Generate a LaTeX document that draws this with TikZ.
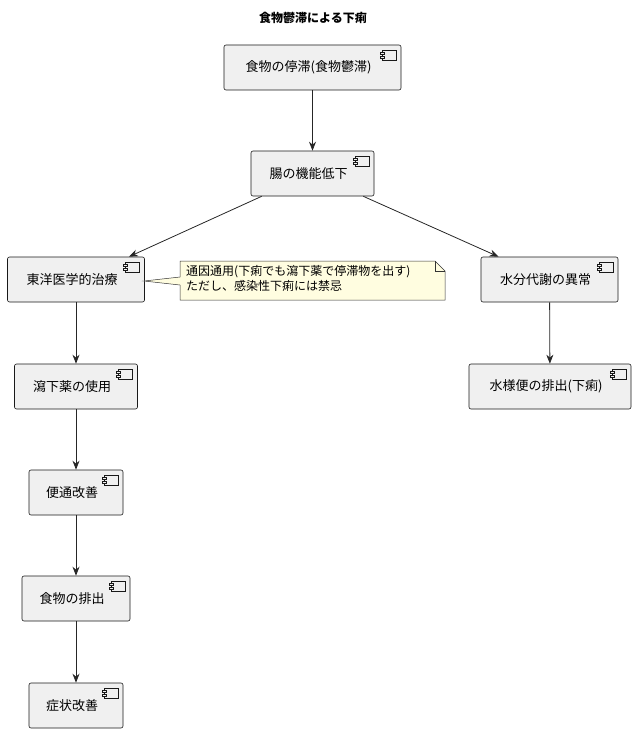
\documentclass[tikz,border=0pt]{standalone}
\usepackage{fontspec}
\setmainfont{Noto Sans CJK JP}
\usetikzlibrary{arrows.meta,shapes.misc}
\begin{document}
\begin{tikzpicture}[x=1pt,y=-1pt,
 comp/.style={draw=black!90,fill=black!6,rounded corners=2pt,line width=0.6pt,
   minimum height=45,inner xsep=14,font=\fontsize{13}{15}\selectfont,
   path picture={
     \coordinate (ne) at (path picture bounding box.north east);
     \draw[line width=0.5pt,fill=black!6,sharp corners] ([xshift=-19,yshift=-5]ne) rectangle ([xshift=-5,yshift=-15]ne);
     \draw[line width=0.5pt,fill=black!6,sharp corners] ([xshift=-21,yshift=-7]ne) rectangle ([xshift=-17,yshift=-9]ne);
     \draw[line width=0.5pt,fill=black!6,sharp corners] ([xshift=-21,yshift=-11]ne) rectangle ([xshift=-17,yshift=-13]ne);
   }},
 arr/.style={-{Stealth[length=9pt,width=7pt]},line width=0.8pt,draw=black!85}]
\useasboundingbox (0,0) rectangle (636,733);
\node[font=\bfseries\fontsize{12}{14}\selectfont] (title) at (313,18) {食物鬱滞による下痢};
\node[comp,minimum width=177] (a) at (312.5,67.5) {\hspace*{-8pt}食物の停滞(食物鬱滞)};
\node[comp,minimum width=123] (b) at (312.5,173.5) {\hspace*{-8pt}腸の機能低下};
\node[comp,minimum width=137] (c) at (76,279.5) {\hspace*{-8pt}東洋医学的治療};
\node[comp,minimum width=137] (d) at (549.5,279.5) {\hspace*{-8pt}水分代謝の異常};
\node[comp,minimum width=123] (e) at (76,386.5) {\hspace*{-8pt}瀉下薬の使用};
\node[comp,minimum width=162] (f) at (550,386.5) {\hspace*{-8pt}水様便の排出(下痢)};
\node[comp,minimum width=94] (g) at (76,492.5) {\hspace*{-8pt}便通改善};
\node[comp,minimum width=108] (h) at (76,598.5) {\hspace*{-8pt}食物の排出};
\node[comp,minimum width=94] (i) at (76,705.5) {\hspace*{-8pt}症状改善};
% note
\draw[fill=yellow!12!white,draw=black!80,line width=0.5pt]
  (180,261) -- (435,261) -- (445,271) -- (445,300) -- (180,300) -- (180,285) -- (144,281) -- (180,277) -- cycle;
\draw[line width=0.5pt,draw=black!80] (435,261) -- (435,271) -- (445,271);
\node[anchor=north west,align=left,inner sep=0,font=\fontsize{12}{15}\selectfont] (note) at (186,265)
 {通因通用(下痢でも瀉下薬で停滞物を出す)\\ただし、感染性下痢には禁忌};
\draw[arr] (a) -- (b);
\draw[arr] ([xshift=11]b.south west) -- ([xshift=53]c.north);
\draw[arr] ([xshift=-11]b.south east) -- ([xshift=-51]d.north);
\draw[arr] (c) -- (e);
\draw[arr] (d) -- (f);
\draw[arr] (e) -- (g);
\draw[arr] (g) -- (h);
\draw[arr] (h) -- (i);
\end{tikzpicture}
\end{document}
